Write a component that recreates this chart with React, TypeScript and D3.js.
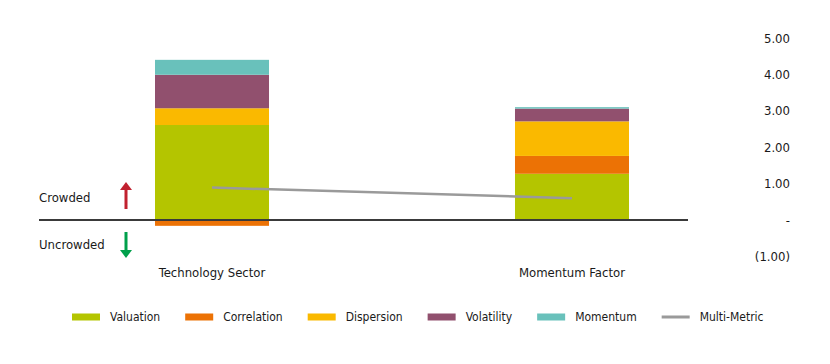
import React, { useMemo } from 'react';
import * as d3 from 'd3';

const categories = ['Technology Sector', 'Momentum Factor'];
const metrics = ['Valuation', 'Correlation', 'Dispersion', 'Volatility', 'Momentum'];
const valuation = [2.61, 1.27];
const correlation = [-0.16, 0.49];
const dispersion = [0.46, 0.95];
const volatility = [0.92, 0.35];
const momentum = [0.41, 0.04];
const multiMetric = [0.89, 0.6];
const yTicks = [-1, 0, 1, 2, 3, 4, 5];

const colors: Record<string, string> = {
  Valuation: '#b4c500',
  Correlation: '#ec7205',
  Dispersion: '#fab900',
  Volatility: '#91506e',
  Momentum: '#69c1bb',
  'Multi-Metric': '#9a9a9a',
};

const FONT = '"Liberation Sans Narrow", "DejaVu Sans Condensed", sans-serif';

function fmtTick(v: number) {
  if (v === 0) return '-';
  if (v < 0) return `(${Math.abs(v).toFixed(2)})`;
  return v.toFixed(2);
}

function textWidth(text: string, size: number) {
  const c = document.createElement('canvas').getContext('2d');
  if (!c) return text.length * size * 0.45;
  c.font = `${size}px ${FONT}`;
  return c.measureText(text).width;
}

export default function App() {
  const width = 830;
  const height = 364;

  const rows = categories.map((cat, i) => ({
    category: cat,
    Valuation: valuation[i],
    Correlation: correlation[i],
    Dispersion: dispersion[i],
    Volatility: volatility[i],
    Momentum: momentum[i],
  }));

  const series = useMemo(
    () => d3.stack<any>().keys(metrics).offset(d3.stackOffsetDiverging)(rows),
    []
  );

  const x = d3.scaleBand().domain(categories).range([32, 752]).paddingInner(0.6833).paddingOuter(0.3417);
  const y = d3.scaleLinear().domain([-1, 5]).range([256.4, 38]);
  const bw = x.bandwidth();

  const line = d3
    .line<number>()
    .x((_, i) => (x(categories[i]) as number) + bw / 2)
    .y((d) => y(d));

  const legendItems = [...metrics, 'Multi-Metric'];
  const legendSize = 12;
  let cursor = 72;
  const legendPos = legendItems.map((name) => {
    const pos = cursor;
    cursor += 28 + 10 + textWidth(name, legendSize) + 25;
    return pos;
  });

  return (
    <svg
      width={width}
      height={height}
      style={{ position: 'absolute', left: 0, top: 0, background: '#fff', fontFamily: FONT }}
    >
      {series.map((s) => (
        <g key={s.key} fill={colors[s.key]}>
          {s.map((d: any) => (
            <rect
              key={d.data.category}
              x={x(d.data.category)}
              y={y(d[1])}
              width={bw}
              height={y(d[0]) - y(d[1])}
            />
          ))}
        </g>
      ))}

      <line x1={39} x2={688} y1={y(0)} y2={y(0)} stroke="#3a3a3a" strokeWidth={2} />

      <path d={line(multiMetric) || ''} fill="none" stroke={colors['Multi-Metric']} strokeWidth={2.5} />

      {yTicks.map((t) => (
        <text key={t} x={790} y={y(t)} dy="0.35em" textAnchor="end" fontSize={13} fill="#1a1a1a">
          {fmtTick(t)}
        </text>
      ))}

      {categories.map((c) => (
        <text
          key={c}
          x={(x(c) as number) + bw / 2}
          y={277}
          textAnchor="middle"
          fontSize={13}
          fill="#1a1a1a"
        >
          {c}
        </text>
      ))}

      <text x={39} y={202} fontSize={13} fill="#1a1a1a">Crowded</text>
      <text x={39} y={249} fontSize={13} fill="#1a1a1a">Uncrowded</text>

      <g fill="#c1212f">
        <rect x={124.5} y={186} width={3} height={23} />
        <path d="M126,182 L132,190 L120,190 Z" />
      </g>
      <g fill="#00a04b">
        <rect x={124.5} y={232} width={3} height={22} />
        <path d="M126,258 L132,250 L120,250 Z" />
      </g>

      {legendItems.map((name, i) => (
        <g key={name} transform={`translate(${legendPos[i]}, 317)`}>
          {name === 'Multi-Metric' ? (
            <rect x={0} y={-1.5} width={28} height={3} fill={colors[name]} />
          ) : (
            <rect x={0} y={-3.5} width={28} height={7} fill={colors[name]} />
          )}
          <text x={38} y={0} dy="0.35em" fontSize={legendSize} fill="#1a1a1a">
            {name}
          </text>
        </g>
      ))}
    </svg>
  );
}
